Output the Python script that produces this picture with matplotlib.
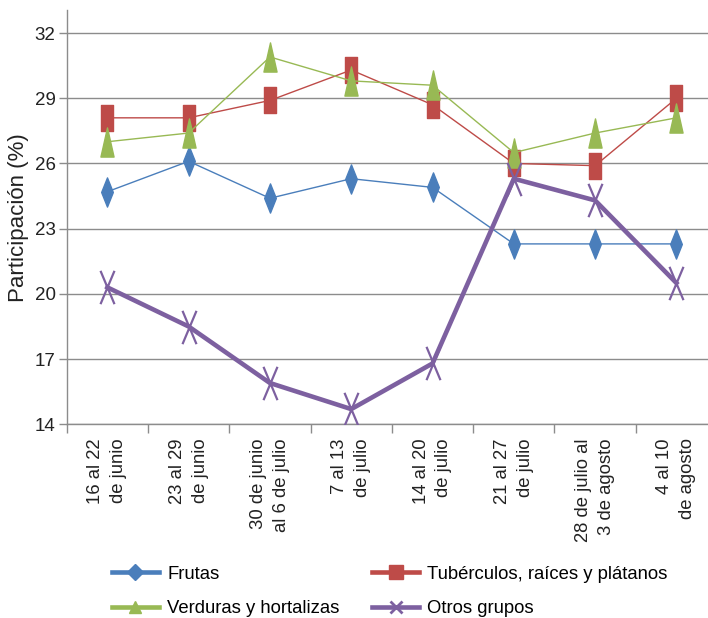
import numpy as np
import matplotlib
matplotlib.use("Agg")
import matplotlib.pyplot as plt
from matplotlib.path import Path
from matplotlib.lines import Line2D

plt.rcParams['font.family'] = ['Liberation Sans', 'DejaVu Sans']

categories = ["16 al 22\nde junio", "23 al 29\nde junio", "30 de junio\nal 6 de julio",
              "7 al 13\nde julio", "14 al 20\nde julio", "21 al 27\nde julio",
              "28 de julio al\n3 de agosto", "4 al 10\nde agosto"]
frutas = [24.7, 26.1, 24.4, 25.3, 24.9, 22.3, 22.3, 22.3]
tuberculos = [28.1, 28.1, 28.9, 30.3, 28.7, 26.0, 25.9, 29.0]
verduras = [27.0, 27.4, 30.9, 29.8, 29.6, 26.5, 27.4, 28.1]
otros = [20.3, 18.5, 15.9, 14.7, 16.8, 25.3, 24.3, 20.5]
series_names = ["Frutas", "Tubérculos, raíces y plátanos", "Verduras y hortalizas", "Otros grupos"]
yticks = [14, 17, 20, 23, 26, 29, 32]

c_blue = '#4a7ebb'
c_red = '#be4b48'
c_green = '#98b954'
c_purple = '#7d60a0'
grid_c = '#8c8c8c'

def poly_marker(verts):
    v = list(verts) + [verts[0]]
    codes = [Path.MOVETO] + [Path.LINETO] * (len(verts) - 1) + [Path.CLOSEPOLY]
    return Path(v, codes)

diamond = poly_marker([(0, 1), (0.4, 0), (0, -1), (-0.4, 0)])
square = poly_marker([(-0.44, -1), (0.44, -1), (0.44, 1), (-0.44, 1)])
triangle = poly_marker([(0, 1), (0.45, -1), (-0.45, -1)])
xmark = Path([(-0.42, -1), (0.42, 1), (-0.42, 1), (0.42, -1)],
             [Path.MOVETO, Path.LINETO, Path.MOVETO, Path.LINETO])

fig = plt.figure(figsize=(7.08, 6.18), dpi=100)
ax = fig.add_axes([0.0942, 0.3134, 0.9186, 0.9838 - 0.3134])

x = np.arange(len(categories))
ax.plot(x, frutas, color=c_blue, lw=1.0, marker=diamond, ms=21, mec=c_blue, mfc=c_blue, zorder=3)
ax.plot(x, tuberculos, color=c_red, lw=1.0, marker=square, ms=18.5, mec=c_red, mfc=c_red, zorder=3)
ax.plot(x, verduras, color=c_green, lw=1.0, marker=triangle, ms=21, mec=c_green, mfc=c_green, zorder=3)
ax.plot(x, otros, color=c_purple, lw=3.3, marker=xmark, ms=24, mec=c_purple, mfc='none', mew=1.6, zorder=3)

ax.set_xlim(-0.5, 7.5)
ax.set_ylim(14, 33.06)
ax.set_yticks(yticks)
ax.set_yticklabels([str(t) for t in yticks], fontsize=13.5, color='#222222')
ax.set_xticks(x)
ax.set_xticklabels(categories, rotation=90, fontsize=13.3, ha='center', va='top',
                   multialignment='right', linespacing=1.45, color='#222222')
ax.set_xticks(np.arange(-0.5, 8.0, 1.0), minor=True)
ax.tick_params(axis='x', which='major', length=0, pad=10)
ax.tick_params(axis='x', which='minor', length=6.5, width=1.0, color=grid_c, direction='out')
ax.tick_params(axis='y', which='major', length=6, width=1.0, color=grid_c, pad=2)

ax.grid(axis='y', color=grid_c, lw=1.0)
ax.set_axisbelow(True)
for s in ['top', 'right']:
    ax.spines[s].set_visible(False)
for s in ['left', 'bottom']:
    ax.spines[s].set_color(grid_c)
    ax.spines[s].set_linewidth(1.0)

ax.set_ylabel("Participación (%)", fontsize=16, color='#222222', va='center')
ax.yaxis.set_label_coords(-0.074, 0.5)

h_fr = Line2D([], [], color=c_blue, lw=3.3, marker='D', ms=8, mec=c_blue)
h_tu = Line2D([], [], color=c_red, lw=3.3, marker='s', ms=10, mec=c_red)
h_ve = Line2D([], [], color=c_green, lw=3.3, marker='^', ms=9, mec=c_green)
h_ot = Line2D([], [], color=c_purple, lw=3.3, marker='x', ms=9, mew=2, mec=c_purple)
fig.legend([h_fr, h_ve, h_tu, h_ot],
           [series_names[0], series_names[2], series_names[1], series_names[3]],
           ncol=2, loc='center left', bbox_to_anchor=(0.158, 0.043), frameon=False,
           fontsize=13.3, handlelength=2.55, handletextpad=0.45, columnspacing=1.75,
           labelspacing=0.95, borderpad=0, borderaxespad=0)

fig.savefig("out.png", dpi=100)
